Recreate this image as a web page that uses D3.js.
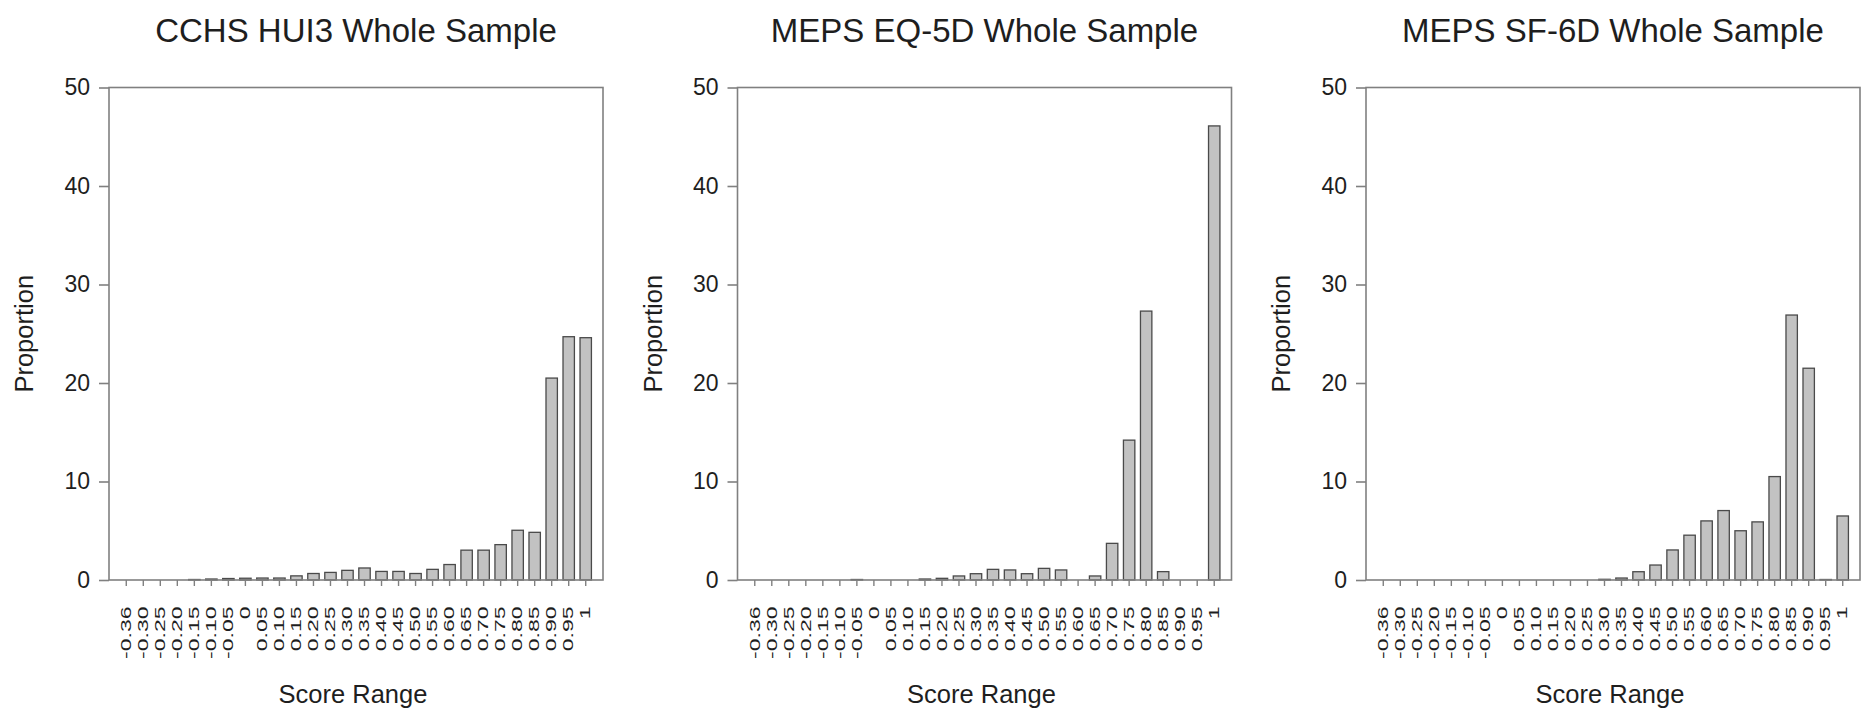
<!DOCTYPE html>
<html>
<head>
<meta charset="utf-8">
<script src="https://cdn.jsdelivr.net/npm/d3@7"></script>
<style>
  html, body { margin: 0; padding: 0; background: #fff; }
  svg { display: block; }
  text { font-family: "Liberation Sans", Arial, Helvetica, sans-serif; fill: #1e1e1e; }
</style>
</head>
<body>
<svg id="chart" width="1866" height="711"></svg>
<script>
// ---- data ----
const categories = ["-0.36","-0.30","-0.25","-0.20","-0.15","-0.10","-0.05","0",
  "0.05","0.10","0.15","0.20","0.25","0.30","0.35","0.40","0.45","0.50",
  "0.55","0.60","0.65","0.70","0.75","0.80","0.85","0.90","0.95","1"];

const titles = ["CCHS HUI3 Whole Sample", "MEPS EQ-5D Whole Sample", "MEPS SF-6D Whole Sample"];

const hui3Values = [0, 0, 0, 0, 0.05, 0.1, 0.15, 0.18, 0.2, 0.2, 0.42, 0.66, 0.77, 0.98, 1.22,
  0.87, 0.87, 0.66, 1.08, 1.57, 3.03, 3.03, 3.59, 5.05, 4.84, 20.5, 24.7, 24.6];

const eq5dValues = [0, 0, 0, 0, 0, 0, 0.05, 0, 0, 0, 0.1, 0.17, 0.41, 0.64, 1.08,
  1.02, 0.64, 1.18, 1.02, 0, 0.41, 3.72, 14.2, 27.3, 0.85, 0, 0, 46.1];

const sf6dValues = [0, 0, 0, 0, 0, 0, 0, 0, 0, 0, 0, 0, 0, 0.07, 0.2,
  0.84, 1.52, 3.05, 4.55, 6.0, 7.05, 5.0, 5.9, 10.5, 26.9, 21.5, 0.05, 6.5];

const yTicks = [0, 10, 20, 30, 40, 50];
const yLabel = "Proportion";
const xLabel = "Score Range";

const seriesList = [hui3Values, eq5dValues, sf6dValues];

// ---- layout ----
const panelLefts = [109, 737.5, 1366];
const panelW = 494;
const plotTop = 87.5, plotBottom = 580;

const svg = d3.select("#chart");

seriesList.forEach((vals, p) => {
  const left = panelLefts[p];
  const right = left + panelW;
  const g = svg.append("g");

  const x = d3.scaleBand().domain(categories).range([left, right])
    .paddingInner(0.33).paddingOuter(0.68);
  const y = d3.scaleLinear().domain([0, 50]).range([plotBottom, plotTop]);

  // bars
  g.selectAll("rect.bar").data(vals).enter().append("rect")
    .attr("class", "bar")
    .attr("x", (d, i) => x(categories[i]))
    .attr("width", x.bandwidth())
    .attr("y", d => y(d))
    .attr("height", d => y(0) - y(d))
    .attr("fill", "#c2c2c2")
    .attr("stroke", "#4a4a4a")
    .attr("stroke-width", 1.3);

  // box
  g.append("rect")
    .attr("x", left).attr("y", plotTop)
    .attr("width", panelW).attr("height", plotBottom - plotTop)
    .attr("fill", "none").attr("stroke", "#808080").attr("stroke-width", 1.6);

  // y axis
  const yAxis = g.append("g").attr("transform", `translate(${left},0)`)
    .call(d3.axisLeft(y).tickValues(yTicks).tickSize(10).tickSizeOuter(0).tickPadding(9));
  yAxis.select(".domain").remove();
  yAxis.selectAll(".tick line").attr("stroke", "#808080").attr("stroke-width", 1.6);
  yAxis.selectAll(".tick text")
    .attr("font-size", 23).attr("fill", "#1e1e1e")
    .style("font-family", '"Liberation Sans", Arial, sans-serif');

  // x axis
  const xAxis = g.append("g").attr("transform", `translate(0,${plotBottom})`)
    .call(d3.axisBottom(x).tickSize(6).tickSizeOuter(0));
  xAxis.select(".domain").remove();
  xAxis.selectAll(".tick line").attr("stroke", "#808080").attr("stroke-width", 1.4);
  xAxis.selectAll(".tick text")
    .attr("x", 0).attr("y", 0).attr("dy", null)
    .attr("text-anchor", "end")
    .attr("dominant-baseline", "central")
    .attr("transform", "translate(0,26.5) rotate(-90) scale(1,0.6)")
    .attr("font-size", 23).attr("fill", "#1e1e1e")
    .style("font-family", '"Liberation Sans", Arial, sans-serif');

  // title
  g.append("text")
    .attr("x", (left + right) / 2).attr("y", 42)
    .attr("text-anchor", "middle")
    .attr("font-size", 33)
    .text(titles[p]);

  // x label
  g.append("text")
    .attr("x", (left + right) / 2 - 3).attr("y", 703)
    .attr("text-anchor", "middle")
    .attr("font-size", 25.5)
    .text(xLabel);

  // y label
  g.append("text")
    .attr("transform", `translate(${left - 76},${(plotTop + plotBottom) / 2}) rotate(-90)`)
    .attr("text-anchor", "middle")
    .attr("font-size", 25.5)
    .text(yLabel);
});
</script>
</body>
</html>
